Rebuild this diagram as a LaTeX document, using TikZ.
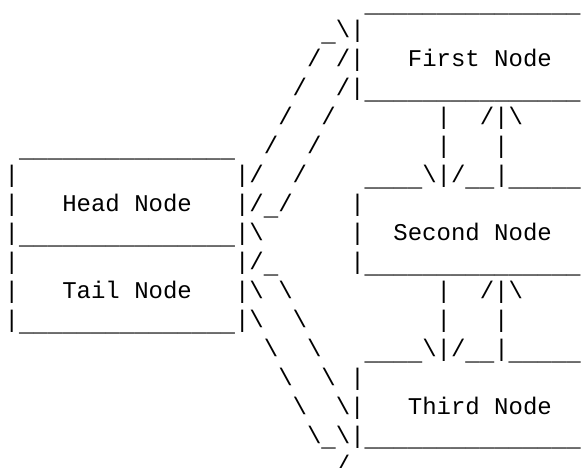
\documentclass[tikz,border=0pt]{standalone}
\usepackage{fontspec}
\setmonofont{Liberation Mono}

% Glyph helpers for the ASCII strokes
\newcommand{\bsl}{\textbackslash}
\newcommand{\us}{\lower1.5pt\hbox{\_}} % underscore, set a little lower
\newcommand{\unders}[1]{\foreach \k in {1,...,#1}{\us}}

\begin{document}
\begin{tikzpicture}[
    x=6pt, y=12.083pt, % one character cell wide, one text line high
    glyph/.style={font=\ttfamily\fontsize{10}{12}\selectfont, inner sep=0pt, anchor=base west}, % Style for a run of characters
    boxtext/.style={glyph} % Style for the node names
]

    % Fix the margins of the picture
    \useasboundingbox (-0.29, 0.29) rectangle (40.127, -15.848);

    % Names inside the boxes (column, -line)
    \node[boxtext] (head)   at (4, -7)   {Head Node};
    \node[boxtext] (tail)   at (4, -10)  {Tail Node};
    \node[boxtext] (first)  at (28, -2)  {First Node};
    \node[boxtext] (second) at (27, -8)  {Second Node};
    \node[boxtext] (third)  at (28, -14) {Third Node};

    % Box edges and links, one run of characters per entry: column/line/text
    \foreach \c/\r/\t [count=\n] in {
        25/0/{\unders{15}},
        22/1/{\us\bsl|},
        21/2/{/}, 23/2/{/|},
        20/3/{/}, 23/3/{/|\unders{15}},
        19/4/{/}, 22/4/{/}, 30/4/{|}, 33/4/{/|\bsl},
        1/5/{\unders{15}}, 18/5/{/}, 21/5/{/}, 30/5/{|}, 34/5/{|},
        0/6/{|}, 16/6/{|/}, 20/6/{/}, 25/6/{\unders{4}\bsl|/\unders{2}|\unders{5}},
        0/7/{|}, 16/7/{|/\us/}, 24/7/{|},
        0/8/{|\unders{15}|\bsl}, 24/8/{|},
        0/9/{|}, 16/9/{|/\us}, 24/9/{|\unders{15}},
        0/10/{|}, 16/10/{|\bsl}, 19/10/{\bsl}, 30/10/{|}, 33/10/{/|\bsl},
        0/11/{|\unders{15}|\bsl}, 20/11/{\bsl}, 30/11/{|}, 34/11/{|},
        18/12/{\bsl}, 21/12/{\bsl}, 25/12/{\unders{4}\bsl|/\unders{2}|\unders{5}},
        19/13/{\bsl}, 22/13/{\bsl}, 24/13/{|},
        20/14/{\bsl}, 23/14/{\bsl|},
        21/15/{\bsl\us\bsl|\unders{15}},
        23/16/{/}
    } {
        \node[glyph] (g\n) at (\c, -\r) {\t};
    }

\end{tikzpicture}
\end{document}
